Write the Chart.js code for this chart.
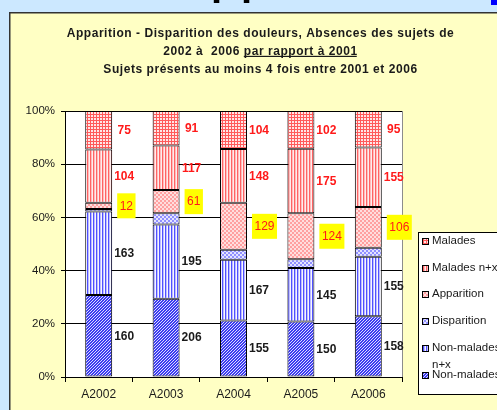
<!DOCTYPE html>
<html>
<head>
<meta charset="utf-8">
<script src="https://cdn.jsdelivr.net/npm/chart.js@4"></script>
<style>
  html, body { margin: 0; padding: 0; overflow: hidden; background: #cce8ff; }
  canvas { display: block; }
</style>
</head>
<body>
<canvas id="douleursChart" width="497" height="410"></canvas>
<script>
// counts per year, bottom of the stack first
const years = ['A2002', 'A2003', 'A2004', 'A2005', 'A2006'];
const seriesNames = ['Non-malades', 'Non-malades n+x', 'Disparition', 'Apparition', 'Malades n+x', 'Malades'];
const nonMalades   = [160, 206, 155, 150, 158];
const nonMaladesNx = [163, 195, 167, 145, 155];
const disparition  = [5, 30, 27, 24, 24];
const apparition   = [12, 61, 129, 124, 106];
const maladesNx    = [104, 117, 148, 175, 155];
const malades      = [75, 91, 104, 102, 95];
const yTicks = [0, 20, 40, 60, 80, 100];

const titleLine1 = 'Apparition - Disparition des douleurs, Absences des sujets de';
const titleLine2a = '2002 à  2006 ';
const titleLine2b = 'par rapport à 2001';
const titleLine3 = 'Sujets présents au moins 4 fois entre 2001 et 2006';

const FONT = '"Liberation Sans", Arial, sans-serif';
Chart.defaults.font.family = FONT;

const series = [nonMalades, nonMaladesNx, disparition, apparition, maladesNx, malades];
const totals = years.map((y, j) => series.reduce((s, arr) => s + arr[j], 0));
const pct = arr => arr.map((v, j) => v / totals[j] * 100);

// little tiles for the Excel-like fill patterns
const scratch = document.createElement('canvas').getContext('2d');
function makePattern(w, h, draw) {
  const c = document.createElement('canvas');
  c.width = w; c.height = h;
  const g = c.getContext('2d');
  draw(g);
  return scratch.createPattern(c, 'repeat');
}
const patNonMalades = makePattern(3, 3, g => {
  g.fillStyle = '#3c3cf0'; g.fillRect(0, 0, 3, 3);
  g.fillStyle = '#dcdcff';
  g.fillRect(0, 2, 1, 1); g.fillRect(1, 1, 1, 1); g.fillRect(2, 0, 1, 1);
});
const patNonMaladesNx = makePattern(3, 1, g => {
  g.fillStyle = '#f6f6ff'; g.fillRect(0, 0, 3, 1);
  g.fillStyle = '#5050ff'; g.fillRect(0, 0, 1, 1);
  g.fillStyle = '#bcbcff'; g.fillRect(1, 0, 1, 1);
});
const patDisparition = makePattern(4, 4, g => {
  g.fillStyle = '#e4e4ff'; g.fillRect(0, 0, 4, 4);
  g.fillStyle = '#9090ff'; g.fillRect(0, 0, 2, 2); g.fillRect(2, 2, 2, 2);
});
const patApparition = makePattern(4, 4, g => {
  g.fillStyle = '#ffdede'; g.fillRect(0, 0, 4, 4);
  g.fillStyle = '#ffa0a0'; g.fillRect(0, 0, 2, 2); g.fillRect(2, 2, 2, 2);
});
const patMaladesNx = makePattern(3, 1, g => {
  g.fillStyle = '#ffecec'; g.fillRect(0, 0, 3, 1);
  g.fillStyle = '#ff6464'; g.fillRect(0, 0, 1, 1);
  g.fillStyle = '#ffbcbc'; g.fillRect(1, 0, 1, 1);
});
const patMalades = makePattern(3, 3, g => {
  g.fillStyle = '#ffe6e6'; g.fillRect(0, 0, 3, 3);
  g.fillStyle = '#ff5a5a'; g.fillRect(0, 0, 1, 3); g.fillRect(0, 0, 3, 1);
});
const patterns = [patNonMalades, patNonMaladesNx, patDisparition, patApparition, patMaladesNx, patMalades];
const labelKinds = ['dark', 'dark', null, 'box', 'red', 'red'];

const datasets = series.map((arr, i) => ({
  label: seriesNames[i],
  data: pct(arr),
  counts: arr,
  valueLabel: labelKinds[i],
  backgroundColor: patterns[i],
  borderColor: '#000',
  borderWidth: 1,
  borderSkipped: false,
  barPercentage: 0.4,
  categoryPercentage: 1
}));

const backdrop = {
  id: 'backdrop',
  beforeDraw(chart) {
    const ctx = chart.ctx, a = chart.chartArea;
    ctx.save();
    ctx.fillStyle = '#cce8ff';
    ctx.fillRect(0, 0, chart.width, chart.height);
    // bottom of the slide heading, cut off by the picture
    ctx.fillStyle = '#000';
    ctx.font = 'bold 40px ' + FONT;
    ctx.textBaseline = 'alphabetic';
    ctx.fillText('p', 211, -5.5);
    ctx.fillText('p', 241, -5.5);
    ctx.fillStyle = '#0000ff';
    ctx.fillRect(491, 0, 6, 5);
    // chart frame
    ctx.fillStyle = '#ffffc4';
    ctx.fillRect(9, 12, chart.width, chart.height);
    ctx.strokeStyle = '#333';
    ctx.lineWidth = 1.5;
    ctx.strokeRect(9.75, 12.75, chart.width + 10, chart.height + 10);
    // plot area
    ctx.fillStyle = '#fff';
    ctx.fillRect(a.left, a.top, a.right - a.left, a.bottom - a.top);
    ctx.strokeStyle = '#8c8c8c';
    ctx.lineWidth = 1;
    ctx.strokeRect(a.left + 0.5, a.top + 0.5, a.right - a.left, a.bottom - a.top);
    ctx.restore();
  }
};

const titleBlock = {
  id: 'titleBlock',
  afterDraw(chart) {
    const ctx = chart.ctx, cx = 260.5;
    ctx.save();
    ctx.font = 'bold 12px ' + FONT;
    ctx.letterSpacing = '0.55px';
    ctx.fillStyle = '#1a1a1a';
    ctx.textBaseline = 'alphabetic';
    ctx.textAlign = 'left';
    const w1 = ctx.measureText(titleLine1).width;
    const w3 = ctx.measureText(titleLine3).width;
    ctx.fillText(titleLine1, cx - w1 / 2, 36.5);
    ctx.fillText(titleLine3, cx - w3 / 2, 72.5);
    const wa = ctx.measureText(titleLine2a).width;
    const wb = ctx.measureText(titleLine2b).width;
    const x0 = cx - (wa + wb) / 2;
    ctx.fillText(titleLine2a, x0, 54.5);
    ctx.fillText(titleLine2b, x0 + wa, 54.5);
    ctx.fillRect(x0 + wa, 55.8, wb - 1, 1.2);
    ctx.restore();
  }
};

const valueLabels = {
  id: 'valueLabels',
  afterDatasetsDraw(chart) {
    const ctx = chart.ctx;
    ctx.save();
    ctx.textBaseline = 'middle';
    ctx.textAlign = 'center';
    chart.data.datasets.forEach((ds, i) => {
      if (!ds.valueLabel) return;
      chart.getDatasetMeta(i).data.forEach((bar, j) => {
        const txt = String(ds.counts[j]);
        const right = bar.x + bar.width / 2;
        const cy = (bar.y + bar.base) / 2;
        if (ds.valueLabel === 'box') {
          ctx.font = '12px ' + FONT;
          const w = ctx.measureText(txt).width + 5;
          ctx.fillStyle = '#ffff00';
          ctx.fillRect(right + 5, cy - 12.5, w, 25);
          ctx.fillStyle = '#ff1a1a';
          ctx.fillText(txt, right + 5 + w / 2, cy + 0.5);
        } else {
          ctx.font = 'bold 12px ' + FONT;
          ctx.fillStyle = ds.valueLabel === 'red' ? '#ff1a1a' : '#1a1a1a';
          ctx.fillText(txt, right + 12, cy + 0.5);
        }
      });
    });
    ctx.restore();
  }
};

const sideLegend = {
  id: 'sideLegend',
  afterDraw(chart) {
    const ctx = chart.ctx;
    ctx.save();
    ctx.fillStyle = '#fff';
    ctx.fillRect(418, 232, 120, 162);
    ctx.strokeStyle = '#000';
    ctx.lineWidth = 1;
    ctx.strokeRect(418.5, 232.5, 120, 162);
    ctx.font = '11.5px ' + FONT;
    ctx.textBaseline = 'middle';
    ctx.textAlign = 'left';
    const items = chart.data.datasets.slice().reverse();
    items.forEach((ds, k) => {
      const cy = Math.round(241 + k * 26.7);
      ctx.fillStyle = ds.backgroundColor;
      ctx.fillRect(422, cy - 3, 7, 7);
      ctx.strokeStyle = '#000';
      ctx.strokeRect(422.5, cy - 2.5, 6, 6);
      ctx.fillStyle = '#1a1a1a';
      let text = ds.label;
      if (ctx.measureText(text).width > 80) {
        const cut = text.lastIndexOf(' ');
        ctx.fillText(text.slice(0, cut), 432, cy);
        ctx.fillText(text.slice(cut + 1), 432, cy + 16.6);
      } else {
        ctx.fillText(text, 432, cy);
      }
    });
    ctx.restore();
  }
};

new Chart(document.getElementById('douleursChart'), {
  type: 'bar',
  data: { labels: years, datasets: datasets },
  options: {
    responsive: false,
    animation: false,
    events: [],
    layout: { padding: { left: 15, top: 111, right: 95, bottom: 5 } },
    plugins: {
      legend: { display: false },
      title: { display: false },
      tooltip: { enabled: false }
    },
    scales: {
      x: {
        stacked: true,
        offset: true,
        grid: { offset: true, drawOnChartArea: false, tickLength: 5, tickColor: '#000', color: '#000' },
        border: { color: '#000' },
        ticks: { color: '#1a1a1a', font: { size: 12 }, padding: 5 },
        afterFit(s) { s.height = 28; }
      },
      y: {
        stacked: true,
        min: 0,
        max: 100,
        afterBuildTicks(s) { s.ticks = yTicks.map(v => ({ value: v })); },
        grid: { color: '#000', tickColor: '#000', tickLength: 4 },
        border: { color: '#000' },
        ticks: { color: '#1a1a1a', font: { size: 11.5 }, padding: 6, callback: v => v + '%' },
        afterFit(s) { s.width = 50; }
      }
    }
  },
  plugins: [backdrop, titleBlock, valueLabels, sideLegend]
});
</script>
</body>
</html>
